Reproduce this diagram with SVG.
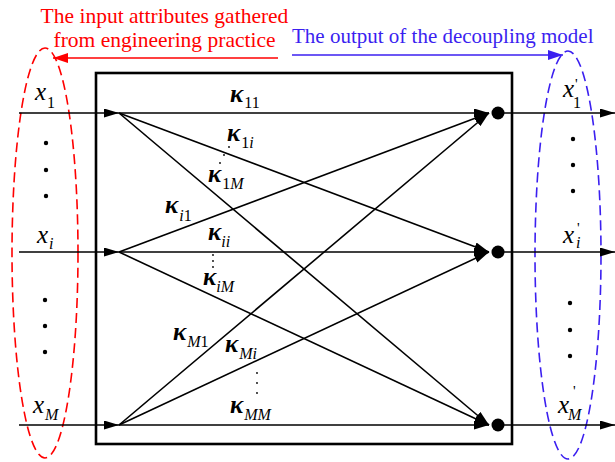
<svg xmlns="http://www.w3.org/2000/svg" width="615" height="462" viewBox="0 0 615 462">
<style>
text{font-family:'Liberation Serif','Times New Roman',Tinos,'DejaVu Serif',serif}
.ln{stroke:#000;stroke-width:1.6;fill:none}
.box{stroke:#000;stroke-width:2.6;fill:none}
.m{fill:#000}
.x{font-size:25px;font-style:italic}
.k{font-size:25px;font-style:italic;font-weight:bold}
.s{font-size:16px;font-style:normal;font-weight:normal}
.si{font-size:16px;font-style:italic;font-weight:normal}
.pr{font-size:15px}
.red{font-size:21.5px;fill:#ff0000}
.blue{font-size:21px;fill:#3b1ff0}
.dot{fill:#000}
</style>
<defs>
<marker id="ah" markerUnits="userSpaceOnUse" markerWidth="16" markerHeight="10" refX="15" refY="4.5" orient="auto"><path d="M0,0 L15,4.5 L0,9 z" fill="#000"/></marker>
<marker id="ahr" markerUnits="userSpaceOnUse" markerWidth="16" markerHeight="12" refX="15" refY="5" orient="auto"><path d="M0,0 L15,5 L0,10 z" fill="#ff0000"/></marker>
<marker id="ahb" markerUnits="userSpaceOnUse" markerWidth="16" markerHeight="12" refX="15" refY="5" orient="auto"><path d="M0,0 L15,5 L0,10 z" fill="#3b1ff0"/></marker>
</defs>

<g id="captions">
<text class="red" x="164.5" y="23" text-anchor="middle">The input attributes gathered</text>
<text class="red" x="164.5" y="47" text-anchor="middle">from engineering practice</text>
<line x1="278" y1="58" x2="53" y2="58" stroke="#ff0000" stroke-width="1.6" marker-end="url(#ahr)"/>
<text class="blue" x="292" y="43">The output of the decoupling model</text>
<line x1="292" y1="55" x2="563" y2="55" stroke="#3b1ff0" stroke-width="1.6" marker-end="url(#ahb)"/>
</g>

<g id="input-group">
<ellipse cx="45" cy="253" rx="33" ry="205" fill="none" stroke="#ff0000" stroke-width="1.6" stroke-dasharray="10,5"/>
<text class="m x" x="35" y="100">x<tspan class="s" dx="1" dy="8">1</tspan></text>
<text class="m x" x="37" y="243">x<tspan class="si" dx="1" dy="6">i</tspan></text>
<text class="m x" x="33" y="413">x<tspan class="si" dx="1" dy="7">M</tspan></text>
<circle class="dot" cx="46" cy="143" r="2.2"/>
<circle class="dot" cx="46" cy="170" r="2.2"/>
<circle class="dot" cx="46" cy="196" r="2.2"/>
<circle class="dot" cx="45" cy="300" r="2.2"/>
<circle class="dot" cx="45" cy="326" r="2.2"/>
<circle class="dot" cx="45" cy="352" r="2.2"/>
</g>

<g id="output-group">
<ellipse cx="568" cy="255" rx="33" ry="204" fill="none" stroke="#3b1ff0" stroke-width="1.6" stroke-dasharray="10,5"/>
<text class="m x" x="563" y="97">x<tspan class="s" dx="-1" dy="11">1</tspan></text>
<text class="m pr" x="575" y="89">'</text>
<text class="m x" x="563" y="243">x<tspan class="si" dx="2" dy="5">i</tspan></text>
<text class="m pr" x="577" y="233">'</text>
<text class="m x" x="558" y="413">x<tspan class="si" dx="-1" dy="7">M</tspan></text>
<text class="m pr" x="573" y="396">'</text>
<circle class="dot" cx="573" cy="139" r="2.2"/>
<circle class="dot" cx="573" cy="165" r="2.2"/>
<circle class="dot" cx="573" cy="191" r="2.2"/>
<circle class="dot" cx="570" cy="303" r="2.2"/>
<circle class="dot" cx="570" cy="330" r="2.2"/>
<circle class="dot" cx="570" cy="356" r="2.2"/>
</g>

<g id="model">
<rect class="box" x="96" y="73" width="416" height="371"/>
</g>

<g id="connectors">
<line class="ln" x1="19" y1="113" x2="119" y2="113" marker-end="url(#ah)"/>
<line class="ln" x1="19" y1="252" x2="119" y2="252" marker-end="url(#ah)"/>
<line class="ln" x1="19" y1="425" x2="119" y2="425" marker-end="url(#ah)"/>
<line class="ln" x1="119" y1="113" x2="489" y2="113" marker-end="url(#ah)"/>
<line class="ln" x1="119" y1="113" x2="489" y2="252" marker-end="url(#ah)"/>
<line class="ln" x1="119" y1="113" x2="489" y2="425" marker-end="url(#ah)"/>
<line class="ln" x1="119" y1="252" x2="489" y2="113" marker-end="url(#ah)"/>
<line class="ln" x1="119" y1="252" x2="489" y2="252" marker-end="url(#ah)"/>
<line class="ln" x1="119" y1="252" x2="489" y2="425" marker-end="url(#ah)"/>
<line class="ln" x1="119" y1="425" x2="489" y2="113" marker-end="url(#ah)"/>
<line class="ln" x1="119" y1="425" x2="489" y2="252" marker-end="url(#ah)"/>
<line class="ln" x1="119" y1="425" x2="489" y2="425" marker-end="url(#ah)"/>
<line class="ln" x1="498" y1="113" x2="615" y2="113" marker-end="url(#ah)"/>
<line class="ln" x1="498" y1="252" x2="615" y2="252" marker-end="url(#ah)"/>
<line class="ln" x1="498" y1="425" x2="615" y2="425" marker-end="url(#ah)"/>
</g>

<g id="nodes">
<circle class="dot" cx="498" cy="113" r="6.5"/>
<circle class="dot" cx="498" cy="252" r="6.5"/>
<circle class="dot" cx="498" cy="425" r="6.5"/>
</g>

<g id="weights">
<text class="m k" x="230" y="102">κ<tspan class="s" dx="1" dy="6">11</tspan></text>
<text class="m k" x="227" y="141">κ<tspan class="s" dx="1" dy="7">1</tspan><tspan class="si" dy="0">i</tspan></text>
<text class="m k" x="208" y="182">κ<tspan class="s" dx="1" dy="7">1</tspan><tspan class="si">M</tspan></text>
<text class="m k" x="165" y="213">κ<tspan class="si" dx="1" dy="8">i</tspan><tspan class="s">1</tspan></text>
<text class="m k" x="208" y="240">κ<tspan class="si" dx="0" dy="7">ii</tspan></text>
<text class="m k" x="203" y="285">κ<tspan class="si" dx="0" dy="7">iM</tspan></text>
<text class="m k" x="173" y="340">κ<tspan class="si" dx="1" dy="7">M</tspan><tspan class="s">1</tspan></text>
<text class="m k" x="225" y="352">κ<tspan class="si" dx="1" dy="7">Mi</tspan></text>
<text class="m k" x="230" y="413">κ<tspan class="si" dx="1" dy="7">MM</tspan></text>
<circle class="dot" cx="229" cy="147" r="0.9"/>
<circle class="dot" cx="224" cy="155" r="0.9"/>
<circle class="dot" cx="220" cy="163" r="0.9"/>
<circle class="dot" cx="213" cy="255" r="0.9"/>
<circle class="dot" cx="213" cy="261" r="0.9"/>
<circle class="dot" cx="213" cy="267" r="0.9"/>
<circle class="dot" cx="257" cy="373" r="0.9"/>
<circle class="dot" cx="257" cy="383" r="0.9"/>
<circle class="dot" cx="257" cy="393" r="0.9"/>
</g>
</svg>
